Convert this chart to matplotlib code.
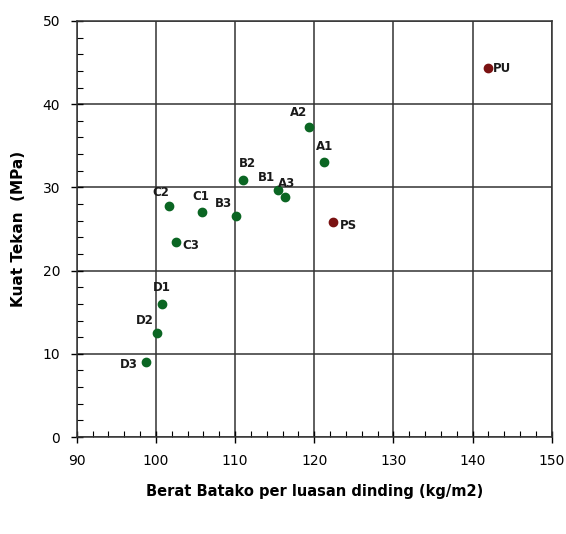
import matplotlib
matplotlib.use("Agg")
import matplotlib.pyplot as plt
from matplotlib.ticker import MultipleLocator

labels_g = ["A1", "A2", "A3", "B1", "B2", "B3", "C1", "C2", "C3", "D1", "D2", "D3"]
x_g = [121.3, 119.4, 116.3, 115.4, 111.0, 110.1, 105.8, 101.7, 102.5, 100.8, 100.1, 98.8]
y_g = [33.0, 37.2, 28.8, 29.7, 30.9, 26.6, 27.0, 27.8, 23.4, 16.0, 12.5, 9.0]
labels_r = ["PU", "PS"]
x_r = [141.9, 122.4]
y_r = [44.3, 25.8]

# label offsets in points
offs = {"A1": (-6, 7), "A2": (-14, 6), "A3": (-5, 5), "B1": (-14, 4), "B2": (-3, 7),
        "B3": (-15, 4), "C1": (-7, 7), "C2": (-12, 5), "C3": (5, -2), "D1": (-7, 7),
        "D2": (-15, 4), "D3": (-19, -2), "PU": (4, 0), "PS": (5, -2)}

fig = plt.figure(figsize=(5.66, 5.34), dpi=100)
ax = fig.add_axes([0.1355, 0.1816, 0.8392, 0.7791])

ax.scatter(x_g, y_g, s=36, color="#0b6623", zorder=3)
ax.scatter(x_r, y_r, s=36, color="#7a1212", zorder=3)
for lab, x, y in zip(labels_g + labels_r, x_g + x_r, y_g + y_r):
    ax.annotate(lab, (x, y), xytext=offs[lab], textcoords="offset points",
                fontsize=8.5, fontweight="bold", color="#1a1a1a",
                va="bottom" if offs[lab][1] > 0 else "center")

ax.set_xlim(90, 150)
ax.set_ylim(0, 50)
ax.xaxis.set_major_locator(MultipleLocator(10))
ax.xaxis.set_minor_locator(MultipleLocator(2))
ax.yaxis.set_major_locator(MultipleLocator(10))
ax.yaxis.set_minor_locator(MultipleLocator(2))
ax.grid(True, which="major", color="#333333", linewidth=1.1)
ax.set_axisbelow(True)
ax.tick_params(which="major", direction="inout", length=8, width=1, labelsize=10, pad=8)
ax.tick_params(which="minor", direction="in", length=4, width=0.8)
for s in ax.spines.values():
    s.set_color("#333333")
    s.set_linewidth(1.1)

ax.set_xlabel("Berat Batako per luasan dinding (kg/m2)", fontsize=10.5, fontweight="bold", labelpad=12)
ax.set_ylabel("Kuat Tekan  (MPa)", fontsize=11, fontweight="bold", labelpad=12)

fig.savefig("out.png", dpi=100)
